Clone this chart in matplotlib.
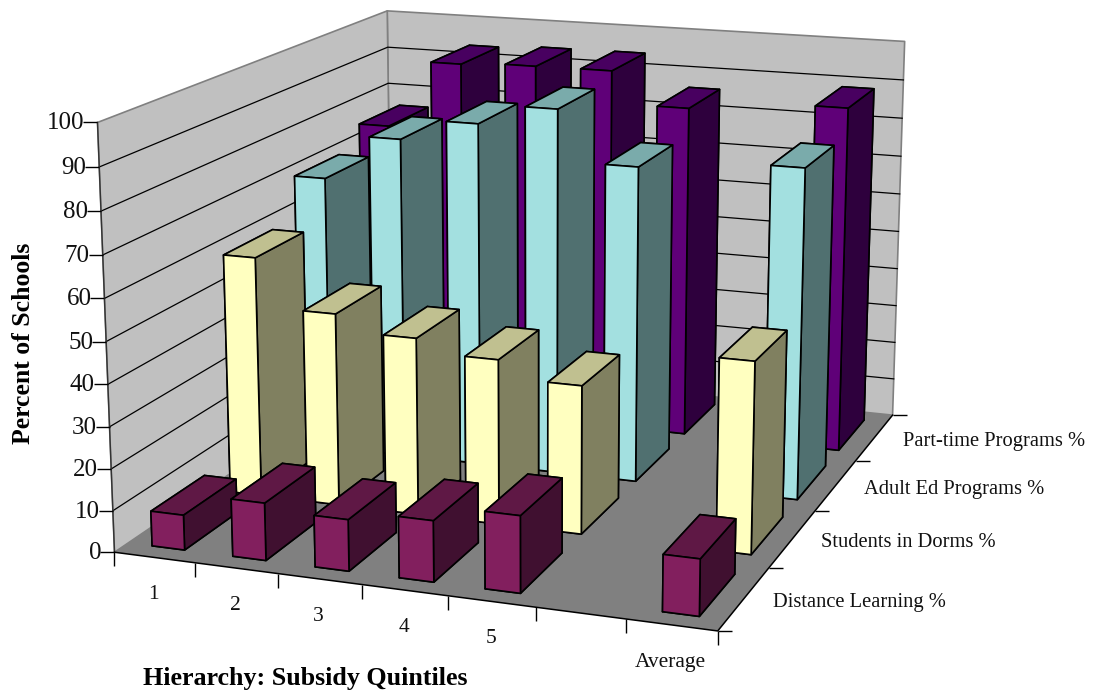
"""3D column chart: school programs by subsidy quintile"""

import numpy as np
import matplotlib
matplotlib.use("Agg")
import matplotlib.pyplot as plt
from mpl_toolkits.mplot3d.art3d import Poly3DCollection

quintiles = ["1", "2", "3", "4", "5", "", "Average"]
series_names = ["Distance Learning %", "Students in Dorms %",
                "Adult Ed Programs %", "Part-time Programs %"]
distance_learning = [8.4, 13.7, 12.2, 14.4, 18, None, 13.1]
students_in_dorms = [59.3, 47.4, 43.4, 40.2, 36, None, 45.9]
adult_ed = [70, 81.4, 86.7, 91.7, 79, None, 81.8]
part_time = [75.5, 93.2, 93.9, 94, 85.7, None, 88.5]
z_ticks = [0, 10, 20, 30, 40, 50, 60, 70, 80, 90, 100]

all_series = [distance_learning, students_in_dorms, adult_ed, part_time]

# face colors for each series: front, side, top
face_colors = [("#821F5E", "#401030", "#5F1845"),
               ("#FFFFC0", "#808060", "#C0C090"),
               ("#A3E0E0", "#507070", "#7AABAB"),
               ("#5F0078", "#2E003D", "#480060")]

n_x = len(quintiles)
n_y = len(all_series)
bar_w = 0.405
bar_d = 0.67
serif = "Liberation Serif"
W, H = 1093, 691

# camera: box locations (x, y, z) and where they land on the canvas
camera_points = [
    (0, 0, 0, 115.3, 552.7), (1, 0, 0, 196, 563.2), (3, 0, 0, 362, 584.6),
    (5, 0, 0, 535.5, 607.1), (7, 0, 0, 717.7, 630.7), (7, 1, 0, 769.3, 567.3),
    (7, 2, 0, 815, 512.3), (7, 3, 0, 856, 460), (7, 4, 0, 892.3, 415),
    (7, 4, 70, 900.7, 156), (7, 4, 90, 903.3, 81), (7, 4, 100, 905, 40.7),
    (0, 0, 10, 111.3, 510), (0, 0, 70, 103.3, 255), (0, 0, 90, 99.3, 166.7),
    (0, 0, 100, 97.3, 122.7), (0, 4, 80, 388.7, 83.3), (0, 4, 90, 387.7, 47.3),
    (0, 4, 100, 386.7, 10.7),
]


def fit_camera(points):
    """direct linear transform, returns the 3x4 matrix"""
    rows = []
    for x, y, z, u, v in points:
        p = [x / 7, y / 4, z / 100, 1]
        u, v = u / 1000, v / 1000
        rows.append(p + [0, 0, 0, 0] + [-u * c for c in p])
        rows.append([0, 0, 0, 0] + p + [-v * c for c in p])
    _, _, vt = np.linalg.svd(np.array(rows))
    cam = vt[-1].reshape(3, 4)
    cam = np.diag([1000, 1000, 1]) @ cam @ np.diag([1 / 7, 1 / 4, 1 / 100, 1])
    if cam[2] @ np.array([3, 2, 50, 1]) < 0:
        cam = -cam
    return cam


camera = fit_camera(camera_points)

fig = plt.figure(figsize=(W / 100, H / 100), dpi=100)
ax = fig.add_axes([0, 0, 1, 1], projection="3d", computed_zorder=False)
ax.set_xticks([])
ax.set_yticks([])
ax.set_zticks([])
ax.set_axis_off()
ax.apply_aspect = lambda position=None: None


def get_proj():
    # canvas pixels -> display -> the 2D coordinates of the axes
    to_display = np.array([[1, 0, 0], [0, -1, H], [0, 0, 1]], dtype=float)
    to_axes = ax.transData.get_affine().inverted().get_matrix()
    m = to_axes @ to_display @ camera
    return np.array([m[0], m[1], [0, 0, 0, -1], m[2]])


ax.get_proj = get_proj


def label(x, y, z, text, dx, dy, size, ha):
    """tick label next to a box location, offset in pixels"""
    u, v, w = camera @ np.array([x, y, z, 1])
    fig.text((u / w + dx) / W, 1 - (v / w + dy) / H, text, ha=ha, va="center",
             fontsize=size, family=serif, color="#111111")


# walls and floor
x_end, y_end = n_x, n_y
left_wall = [(0, 0, 0), (0, y_end, 0), (0, y_end, 100), (0, 0, 100)]
back_wall = [(0, y_end, 0), (x_end, y_end, 0), (x_end, y_end, 100),
             (0, y_end, 100)]
floor = [(0, 0, 0), (x_end, 0, 0), (x_end, y_end, 0), (0, y_end, 0)]
ax.add_collection3d(Poly3DCollection([left_wall, back_wall], facecolor="#C0C0C0",
                                     edgecolor="#808080", linewidth=1.2,
                                     zorder=1))
for z in z_ticks[1:-1]:
    ax.plot([0, 0, x_end], [0, y_end, y_end], [z, z, z], color="black", lw=0.9,
            zorder=2)
ax.add_collection3d(Poly3DCollection([floor], facecolor="#808080",
                                     edgecolor="none", zorder=3))
ax.plot([0, 0], [0, 0], [0, 100], color="#333333", lw=1, zorder=4)
ax.plot([0, x_end, x_end], [0, 0, y_end], [0, 0, 0], color="black", lw=1.1,
        zorder=4)

# ticks
for z in z_ticks:
    ax.plot([0], [0], [z], marker=0, ms=10, mew=1, color="black", zorder=5)
    label(0, 0, z, str(z), -13, 1, 18, "right")
for i in range(n_x + 1):
    ax.plot([i], [0], [0], marker=3, ms=10, mew=1, color="black", zorder=5)
for j in range(n_y + 1):
    ax.plot([x_end], [j], [0], marker=1, ms=10, mew=1, color="black", zorder=5)

# columns, far rows first and left to right inside each row
for j in reversed(range(n_y)):
    front, side, top = face_colors[j]
    for i, value in enumerate(all_series[j]):
        if value is None:
            continue
        bars = ax.bar3d(i + 0.5 - bar_w / 2, j + 0.5 - bar_d / 2, 0, bar_w,
                        bar_d, value, shade=False,
                        color=[side, top, front, side, side, side],
                        edgecolor="black", linewidth=1.2)
        bars.set_zorder(10 + (n_y - j) * 10 + i)

# labels
for i, name in enumerate(quintiles):
    if name:
        label(i + 0.5, 0, 0, name, -1, 37.5, 15.5, "center")
for j, name in enumerate(series_names):
    label(x_end, j + 0.5, 0, name, 28.5, 4, 14.8, "left")

fig.text(24 / W, 1 - 343 / H, "Percent of Schools", rotation=90, ha="center",
         va="center", fontsize=18.5, fontweight="bold", family=serif)
fig.text(305.5 / W, 1 - 679 / H, "Hierarchy: Subsidy Quintiles", ha="center",
         va="center", fontsize=18.7, fontweight="bold", family=serif)

fig.savefig("out.png", dpi=100)
